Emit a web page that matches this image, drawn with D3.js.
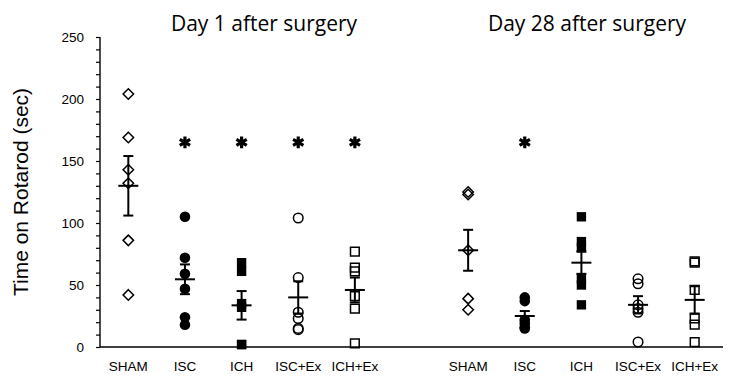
<!DOCTYPE html>
<html>
<head>
<meta charset="utf-8">
<script src="https://cdn.jsdelivr.net/npm/d3@7"></script>
<style>
  body { margin: 0; background: #fff; }
  svg { display: block; }
</style>
</head>
<body>
<svg id="chart" width="750" height="384"></svg>
<script>
// rotarod scores, day 1 and day 28, each animal plus mean +/- sem

const groups = ["SHAM", "ISC", "ICH", "ISC+Ex", "ICH+Ex"];
const dayTitles = ["Day 1 after surgery", "Day 28 after surgery"];
const yTicks = [0, 50, 100, 150, 200, 250];

// individual animals
const day1Sham = [204, 169, 143, 132, 86, 42];
const day1Isc = [105, 72, 59, 47, 24, 18];
const day1Ich = [68, 61, 35, 32, 2, 2];
const day1IscEx = [104, 56, 28, 23, 15, 14];
const day1IchEx = [77, 64, 61, 41, 31, 3];

const day28Sham = [125, 123, 78, 39, 30];
const day28Isc = [40, 37, 22, 19, 16, 15];
const day28Ich = [105, 85, 80, 55, 50, 34];
const day28IscEx = [55, 51, 34, 31, 28, 4];
const day28IchEx = [69, 68, 46, 23, 18, 4];

// group mean and sem
const day1Mean = [130, 54.6, 33.6, 40, 46];
const day1Sem = [24, 12, 11.5, 13, 10];
const day28Mean = [78, 25, 68, 34, 38];
const day28Sem = [16.5, 4, 9, 7, 11];

// * = significant vs sham
const day1Star = [false, true, true, true, true];
const day28Star = [false, true, false, false, false];
const starLevel = 165;

const svg = d3.select('#chart');
const font = '"Liberation Sans", Arial, sans-serif';

const plotLeft = 100, plotRight = 723, plotTop = 37, plotBottom = 347;

// 11 slots: 5 groups, an empty one, 5 groups
const slots = [];
groups.forEach((g) => slots.push('d1|' + g));
slots.push('gap');
groups.forEach((g) => slots.push('d28|' + g));

const x = d3.scalePoint().domain(slots).range([plotLeft, plotRight]).padding(0.5);
const y = d3.scaleLinear().domain([0, 250]).range([plotBottom, plotTop]);

const days = [
  { key: 'd1', points: [day1Sham, day1Isc, day1Ich, day1IscEx, day1IchEx], mean: day1Mean, sem: day1Sem, star: day1Star },
  { key: 'd28', points: [day28Sham, day28Isc, day28Ich, day28IscEx, day28IchEx], mean: day28Mean, sem: day28Sem, star: day28Star }
];

// marker per group: shape + filled or not
const markers = [
  { type: d3.symbolDiamond2, size: 70, fill: false },
  { type: d3.symbolCircle, size: 88, fill: true },
  { type: d3.symbolSquare, size: 88, fill: true },
  { type: d3.symbolCircle, size: 72, fill: false },
  { type: d3.symbolSquare, size: 76, fill: false }
];

// y axis with minor ticks every 10
const yAxis = svg.append('g').attr('transform', `translate(${plotLeft},0)`);
yAxis.call(d3.axisLeft(y).tickValues(d3.range(0, 251, 10)).tickSize(4).tickFormat(''));
yAxis.select('.domain').remove();
yAxis.selectAll('.tick line').attr('stroke', '#000').attr('stroke-width', 1.2);
yAxis.append('line')
  .attr('x1', 0).attr('x2', 0).attr('y1', plotTop).attr('y2', plotBottom)
  .attr('stroke', '#000').attr('stroke-width', 1.4);

svg.append('g').selectAll('text')
  .data(yTicks)
  .join('text')
  .attr('x', plotLeft - 16)
  .attr('y', (d) => y(d))
  .attr('dy', '0.36em')
  .attr('text-anchor', 'end')
  .attr('font-family', font)
  .attr('font-size', 13.5)
  .text((d) => d);

// x baseline
svg.append('line')
  .attr('x1', plotLeft).attr('x2', plotRight).attr('y1', plotBottom).attr('y2', plotBottom)
  .attr('stroke', '#000').attr('stroke-width', 1.4);

// category labels
const xLabels = slots.filter((s) => s !== 'gap');
svg.append('g').selectAll('text')
  .data(xLabels)
  .join('text')
  .attr('x', (d) => x(d))
  .attr('y', 371)
  .attr('text-anchor', 'middle')
  .attr('font-family', font)
  .attr('font-size', 13.5)
  .text((d) => d.split('|')[1]);

// titles
const titleX = [264, 587];
svg.append('g').selectAll('text')
  .data(dayTitles)
  .join('text')
  .attr('x', (d, i) => titleX[i])
  .attr('y', 31)
  .attr('text-anchor', 'middle')
  .attr('font-family', '"Open Sans", sans-serif')
  .attr('font-size', 21)
  .text((d) => d);

// y title
svg.append('text')
  .attr('transform', `translate(28, ${(plotTop + plotBottom) / 2}) rotate(-90)`)
  .attr('text-anchor', 'middle')
  .attr('font-family', font)
  .attr('font-size', 21)
  .text('Time on Rotarod (sec)');

const plot = svg.append('g');

days.forEach((day) => {
  groups.forEach((g, i) => {
    const cx = x(day.key + '|' + g);
    const m = markers[i];
    const sym = d3.symbol().type(m.type).size(m.size);

    plot.append('g').selectAll('path')
      .data(day.points[i])
      .join('path')
      .attr('transform', (v) => `translate(${cx},${y(v)})`)
      .attr('d', sym)
      .attr('fill', m.fill ? '#000' : '#fff')
      .attr('fill-opacity', m.fill ? 1 : 0)
      .attr('stroke', '#000')
      .attr('stroke-width', m.fill ? 0 : 1.5);

    // mean line and sem whiskers
    const mean = day.mean[i], sem = day.sem[i];
    const eb = plot.append('g').attr('stroke', '#000').attr('stroke-width', 2);
    eb.append('line').attr('x1', cx).attr('x2', cx).attr('y1', y(mean + sem)).attr('y2', y(mean - sem));
    eb.append('line').attr('x1', cx - 5).attr('x2', cx + 5).attr('y1', y(mean + sem)).attr('y2', y(mean + sem));
    eb.append('line').attr('x1', cx - 5).attr('x2', cx + 5).attr('y1', y(mean - sem)).attr('y2', y(mean - sem));
    eb.append('line').attr('x1', cx - 10).attr('x2', cx + 10).attr('y1', y(mean)).attr('y2', y(mean));

    if (day.star[i]) {
      plot.append('path')
        .attr('transform', `translate(${cx},${y(starLevel)})`)
        .attr('d', d3.symbol().type(d3.symbolAsterisk).size(100))
        .attr('fill', 'none')
        .attr('stroke', '#000')
        .attr('stroke-width', 3.2);
    }
  });
});
</script>
</body>
</html>
